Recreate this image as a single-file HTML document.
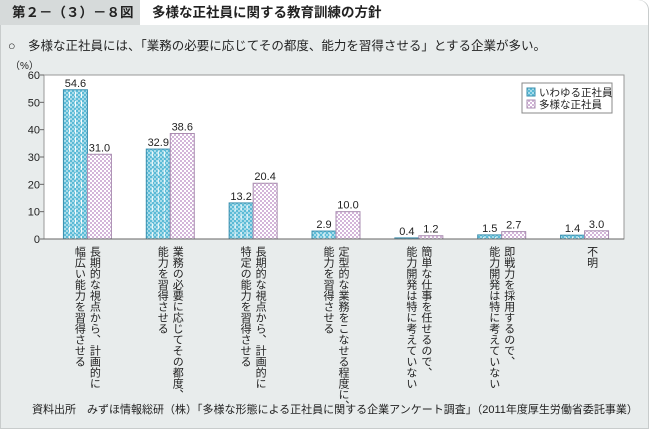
<!DOCTYPE html>
<html><head><meta charset="utf-8"><style>
body{margin:0;width:652px;height:431px;background:#fff;font-family:"Liberation Sans","Noto Sans CJK JP",sans-serif;overflow:hidden;position:relative}
#panel{position:absolute;left:0;top:0;width:649px;height:429px;background:#e8ecec;border:1px solid #c8cccc;border-radius:0 10px 0 0;box-sizing:border-box}
#tab{position:absolute;left:0;top:0;width:140px;height:25px;background:#d6dada;font-size:13.5px;font-weight:bold;line-height:25px;padding-left:12px;box-sizing:border-box;color:#222}
#titlebar{position:absolute;left:140px;top:0;width:508px;height:25px;background:#fff;border-radius:0 10px 0 0;font-size:13.5px;font-weight:bold;line-height:25px;padding-left:12px;box-sizing:border-box;color:#222}
.t{position:absolute;font-size:12px;color:#222;white-space:nowrap}
.xl{position:absolute;top:246px;writing-mode:vertical-rl;font-size:11px;line-height:15px;color:#222;width:30px}
</style></head><body>
<div id="panel"></div>
<div id="tab">第２－（３）－８図</div>
<div id="titlebar">多様な正社員に関する教育訓練の方針</div>
<div class="t" style="left:8px;top:35px;font-size:12.5px">○　多様な正社員には、「業務の必要に応じてその都度、能力を習得させる」とする企業が多い。</div>
<div class="t" style="left:10px;top:57px;font-size:10px">（%）</div>
<svg id="chart" width="652" height="431" style="position:absolute;left:0;top:0">
<defs>
<pattern id="pb" width="4" height="4" patternUnits="userSpaceOnUse"><rect width="4" height="4" fill="#5bbad6"/><rect width="2" height="2" fill="#a8dcea"/><rect x="2" y="2" width="2" height="2" fill="#a8dcea"/></pattern>
<pattern id="pp" width="4" height="4" patternUnits="userSpaceOnUse"><rect width="4" height="4" fill="#fff"/><rect width="2" height="2" fill="#d3b5d9"/><rect x="2" y="2" width="2" height="2" fill="#d3b5d9"/></pattern>
</defs>
</svg>
<div id="labels"></div>
<div class="t" style="left:32px;top:401px;font-size:11px">資料出所　みずほ情報総研（株）「多様な形態による正社員に関する企業アンケート調査」（2011年度厚生労働省委託事業）</div>
<script>
const categories=["長期的な視点から、計画的に\n幅広い能力を習得させる","業務の必要に応じてその都度、\n能力を習得させる","長期的な視点から、計画的に\n特定の能力を習得させる","定型的な業務をこなせる程度に、\n能力を習得させる","簡単な仕事を任せるので、\n能力開発は特に考えていない","即戦力を採用するので、\n能力開発は特に考えていない","不明"];
const seriesRegular=[54.6,32.9,13.2,2.9,0.4,1.5,1.4];
const seriesDiverse=[31.0,38.6,20.4,10.0,1.2,2.7,3.0];
const yTicks=[0,10,20,30,40,50,60];
const seriesNames=["いわゆる正社員","多様な正社員"];
const NS="http://www.w3.org/2000/svg";
const svg=document.getElementById('chart');
const L=44,R=624,T=75,B=239,ymax=60;
const y=v=>B-(v/ymax)*(B-T);
const gw=(R-L)/categories.length;
const xc=i=>L+gw*(i+0.5)+2;
function mk(tag,at){const e=document.createElementNS(NS,tag);for(const k in at)e.setAttribute(k,at[k]);svg.appendChild(e);return e;}
const frame=mk('rect',{x:L,y:T,width:R-L,height:B-T,fill:'#fff',stroke:'#999','stroke-width':1});


yTicks.forEach(v=>{
 const tk=mk('line',{x1:L-4,x2:L,y1:y(v),y2:y(v),stroke:'#666'});
 
 
 const tx=mk('text',{x:L-4,y:y(v)+4,'text-anchor':'end','font-size':11,fill:'#222'});
 tx.textContent=v;
 
 
});
const bw=24;
categories.forEach((c,i)=>{
 const cx=xc(i);
 [[seriesRegular[i],cx-bw,'url(#pb)','#3a8fae','bar-regular'],[seriesDiverse[i],cx,'url(#pp)','#a98db0','bar-diverse']].forEach(([v,x,f,s,n])=>{
  const r=mk('rect',{x:x,y:y(v),width:bw,height:B-y(v),fill:f,stroke:s,'stroke-width':1});
  
  
  if(n==='bar-regular'){for(let k=1;k<4;k++){const lx=x+k*6;const ln=mk('line',{x1:lx,x2:lx,y1:y(v)+2,y2:B,stroke:'#fff','stroke-width':1,'stroke-dasharray':'6 3'});
  }}
  const t=mk('text',{x:x+bw/2,y:y(v)-3,'text-anchor':'middle','font-size':11,fill:'#222'});
  t.textContent=v.toFixed(1);
  
  
 });
 const d=document.createElement('div');
 d.className='xl';
 
 
 d.style.left=(cx-16)+'px';
 d.style.textAlign='start';
 d.innerHTML=c.split('\n').join('<br>');
 document.getElementById('labels').appendChild(d);
});
const ax=mk('line',{x1:L,x2:R,y1:B,y2:B,stroke:'#666'});


const lg=mk('rect',{x:522,y:83,width:90,height:30,fill:'#fff',stroke:'#888'});


['url(#pb)','url(#pp)'].forEach((f,k)=>{
 const s=mk('rect',{x:527,y:88+k*12,width:8,height:8,fill:f,stroke:k?'#a98db0':'#3a8fae'});
 
 
 const t=mk('text',{x:539,y:96+k*12,'font-size':10.5,fill:'#222'});
 t.textContent=seriesNames[k];
 
 
});
</script>
</body></html>
